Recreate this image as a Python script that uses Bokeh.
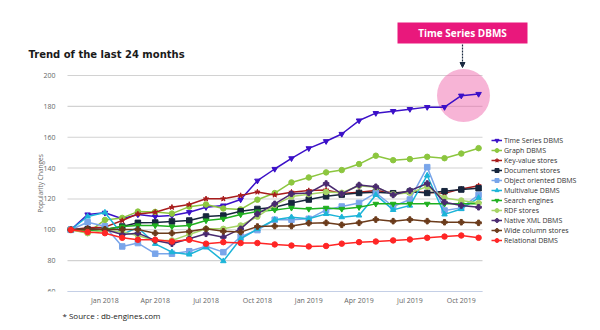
from datetime import datetime
import math
import pandas as pd
from bokeh.plotting import figure
from bokeh.models import (Range1d, Legend, LegendItem, Label, BoxAnnotation, Arrow, Title,
                          NormalHead, FixedTicker, DatetimeTickFormatter, MonthsTicker)
from bokeh.embed import file_html
from bokeh.resources import INLINE

months = ["2017-11", "2017-12", "2018-01", "2018-02", "2018-03", "2018-04", "2018-05",
          "2018-06", "2018-07", "2018-08", "2018-09", "2018-10", "2018-11", "2018-12",
          "2019-01", "2019-02", "2019-03", "2019-04", "2019-05", "2019-06", "2019-07",
          "2019-08", "2019-09", "2019-10", "2019-11"]

time_series = [100, 109.9, 111.0, 107.1, 109.9, 108.6, 109.2, 111.4, 114.6, 115.7, 119.6, 131.8,
               139.4, 146.3, 152.8, 157.4, 162.1, 170.8, 175.6, 176.9, 178.2, 179.5, 179.5, 186.9, 188.0]
graph = [100, 98.0, 106.4, 107.7, 111.8, 111.6, 110.5, 115.0, 116.4, 113.8, 113.2, 119.5,
         123.8, 130.7, 133.9, 137.2, 138.7, 142.6, 148.0, 145.1, 145.8, 147.3, 146.4, 149.4, 152.9]
key_value = [100, 101.3, 101.7, 106.0, 110.3, 111.4, 114.6, 116.4, 120.1, 120.1, 122.2, 124.5,
             122.6, 124.4, 125.4, 125.8, 123.6, 124.4, 125.4, 124.0, 124.4, 124.4, 123.6, 126.5, 128.6]
document = [100, 100.2, 100.2, 102.1, 104.5, 104.7, 105.4, 106.0, 108.6, 109.2, 112.0, 113.5,
            114.6, 117.4, 119.6, 121.7, 122.8, 123.9, 124.4, 123.7, 124.8, 123.9, 125.0, 126.1, 126.9]
object_oriented = [100, 104.9, 102.3, 89.2, 91.4, 84.5, 84.5, 86.1, 89.3, 85.5, 95.5, 99.8,
                   106.5, 106.5, 107.1, 112.9, 115.1, 117.4, 123.9, 115.1, 119.6, 140.6, 112.5, 114.2, 122.6]
multivalue = [100, 108.6, 111.2, 97.0, 101.5, 90.9, 85.5, 84.0, 88.8, 79.7, 94.2, 100.5,
              106.5, 108.2, 107.1, 110.3, 108.2, 109.3, 122.6, 112.9, 115.7, 135.2, 110.0, 113.5, 120.7]
search = [100, 99.5, 100.2, 102.1, 102.8, 102.8, 102.1, 102.8, 106.0, 107.1, 109.9, 111.8,
          112.9, 114.2, 113.5, 114.2, 113.5, 114.6, 116.8, 116.8, 116.8, 116.8, 116.8, 116.8, 116.8]
rdf = [100, 97.8, 99.5, 98.5, 96.3, 93.1, 93.1, 97.0, 100.6, 100.6, 102.8, 108.5,
       116.0, 121.5, 123.0, 124.5, 124.0, 128.5, 127.5, 123.0, 124.0, 128.0, 120.6, 119.0, 117.3]
native_xml = [100, 100.6, 100.2, 97.0, 97.8, 93.1, 91.0, 94.2, 97.4, 95.2, 100.6, 110.3,
              116.8, 123.3, 123.9, 130.0, 123.3, 129.0, 127.9, 122.6, 125.4, 130.0, 117.9, 115.7, 114.6]
wide_column = [100, 100.6, 100.2, 100.2, 100.2, 97.8, 97.8, 98.9, 100.6, 99.0, 98.5, 102.1,
               102.4, 102.4, 104.3, 104.5, 103.2, 104.5, 106.6, 105.6, 106.6, 105.6, 104.9, 104.9, 104.5]
relational = [100, 98.5, 97.8, 94.8, 93.5, 93.5, 92.4, 93.5, 91.0, 92.0, 91.4, 91.4,
              90.5, 89.8, 89.2, 89.5, 91.0, 92.0, 92.4, 93.1, 93.7, 94.8, 95.6, 96.3, 94.8]

series_names = ["Time Series DBMS", "Graph DBMS", "Key-value stores", "Document stores",
                "Object oriented DBMS", "Multivalue DBMS", "Search engines", "RDF stores",
                "Native XML DBMS", "Wide column stores", "Relational DBMS"]
series_values = [time_series, graph, key_value, document, object_oriented, multivalue,
                 search, rdf, native_xml, wide_column, relational]
series_colors = ["#3b10c8", "#8cc63f", "#a81c1c", "#17263c", "#79a5ea", "#1cb4d8",
                 "#1fb01f", "#a6d466", "#4a2a70", "#6b3b1b", "#ff2626"]
series_markers = ["inverted_triangle", "circle", "star", "square", "square", "triangle",
                  "inverted_triangle", "circle", "plus", "plus", "circle"]
y_ticks = [60, 80, 100, 120, 140, 160, 180, 200]

dates = pd.to_datetime(months)

# layout (canvas pixels)
W, H = 600, 330
FL, FR, FT, FB = 20, 600, 0, 291          # plotting frame
GL, GR = 67, 482                           # visible plot area (grid extent)
d_left = pd.Timestamp(datetime(2017, 10, 26)).value / 1e6
d_right = pd.Timestamp(datetime(2019, 11, 8)).value / 1e6
ms_per_px = (d_right - d_left) / (GR - GL)
x0_ms = d_left - (GL - FL) * ms_per_px
x1_ms = d_right + (FR - GR) * ms_per_px
Y0 = 60
PX_PER_UNIT = (291 - 75) / 140.0
Y1 = Y0 + (FB - FT) / PX_PER_UNIT


def px_to_x(px):
    return x0_ms + (px - FL) * ms_per_px


def py_to_y(py):
    return Y0 + (FB - py) / PX_PER_UNIT


p = figure(width=W, height=H, output_backend="svg", toolbar_location=None,
           x_axis_type="datetime", x_range=Range1d(x0_ms, x1_ms), y_range=Range1d(Y0, Y1),
           min_border_left=FL, min_border_right=W - FR, min_border_top=FT,
           min_border_bottom=H - FB)
p.outline_line_color = None
p.background_fill_color = "white"

# horizontal grid limited to the plot area
p.xgrid.grid_line_color = None
p.ygrid.grid_line_color = None
p.segment(x0=[d_left] * len(y_ticks), x1=[d_right] * len(y_ticks), y0=y_ticks, y1=y_ticks,
          line_color="#d2d2d2", line_width=1.1)

# highlight circle
p.scatter(x=[px_to_x(463)], y=[py_to_y(95)], size=53, marker="circle",
          fill_color="#f06aae", fill_alpha=0.5, line_color=None)

items = []
for name, vals, col, mk in zip(series_names, series_values, series_colors, series_markers):
    lr = p.line(dates, vals, line_color=col, line_width=1.5)
    sr = p.scatter(dates, vals, marker=mk, size=5.5, fill_color=col, line_color=col)
    items.append(LegendItem(label=name, renderers=[lr, sr]))

legend = Legend(items=items, location=(491 - FL, FB - 245), padding=0, margin=0, spacing=0,
                glyph_height=10, label_height=10, glyph_width=11, label_standoff=2,
                label_text_font_size="7px", label_text_color="#333333",
                label_text_font="Open Sans", background_fill_alpha=0,
                border_line_color=None)
p.add_layout(legend)

# y axis drawn at the left edge of the plot area
p.yaxis.ticker = FixedTicker(ticks=y_ticks)
p.yaxis.fixed_location = px_to_x(57)
p.yaxis.axis_line_color = None
p.yaxis.major_tick_line_color = None
p.yaxis.minor_tick_line_color = None
p.yaxis.major_tick_out = 0
p.yaxis.major_tick_in = 0
p.yaxis.minor_tick_out = 0
p.yaxis.major_label_standoff = 2
p.yaxis.major_label_text_font = "Open Sans"
p.yaxis.major_label_text_font_size = "7px"
p.yaxis.major_label_text_color = "#666666"

p.add_layout(Label(x=40 - FL, y=FB - 183, x_units="screen", y_units="screen",
                   text="Popularity Changes", angle=math.pi / 2, text_align="center",
                   text_baseline="middle", text_font="Open Sans", text_font_size="6.5px",
                   text_color="#666666"))

# x axis
p.xaxis.ticker = MonthsTicker(months=[0, 3, 6, 9])
p.xaxis.formatter = DatetimeTickFormatter(months="%b %Y", days="%b %Y")
p.xaxis.bounds = (d_left, d_right)
p.xaxis.axis_line_color = "#c4cfe6"
p.xaxis.major_tick_line_color = None
p.xaxis.minor_tick_line_color = None
p.xaxis.major_tick_out = 0
p.xaxis.major_tick_in = 0
p.xaxis.minor_tick_out = 0
p.xaxis.major_label_standoff = 4
p.xaxis.major_label_text_font = "Open Sans"
p.xaxis.major_label_text_font_size = "7px"
p.xaxis.major_label_text_color = "#666666"

# annotation box + arrow
p.add_layout(BoxAnnotation(left=px_to_x(397), right=px_to_x(527), top=py_to_y(22),
                           bottom=py_to_y(43), fill_color="#e9187c", fill_alpha=1,
                           line_color=None))
p.add_layout(Label(x=px_to_x(462), y=py_to_y(32.5), text="Time Series DBMS",
                   text_align="center", text_baseline="middle", text_color="white",
                   text_font="Open Sans", text_font_style="bold", text_font_size="10px"))
p.add_layout(Arrow(x_start=px_to_x(462), y_start=py_to_y(44), x_end=px_to_x(462),
                   y_end=py_to_y(67), line_color="#1b2a41", line_width=1.2, line_dash="2 1",
                   end=NormalHead(size=5, fill_color="#1b2a41", line_color="#1b2a41")))

# title
p.add_layout(Label(x=28 - FL, y=FB - 54, x_units="screen", y_units="screen",
                   text="Trend of the last 24 months", text_font="DejaVu Sans",
                   text_font_style="bold", text_font_size="10px", text_baseline="middle",
                   text_color="#1a1a1a"))

# source line below the axis
p.add_layout(Title(text="* Source : db-engines.com", align="left", offset=62 - FL,
                   text_font="Open Sans", text_font_size="8px", text_font_style="normal",
                   text_color="#1a1a1a", standoff=0), "below")

open("out.html", "w").write(file_html(p, INLINE))
